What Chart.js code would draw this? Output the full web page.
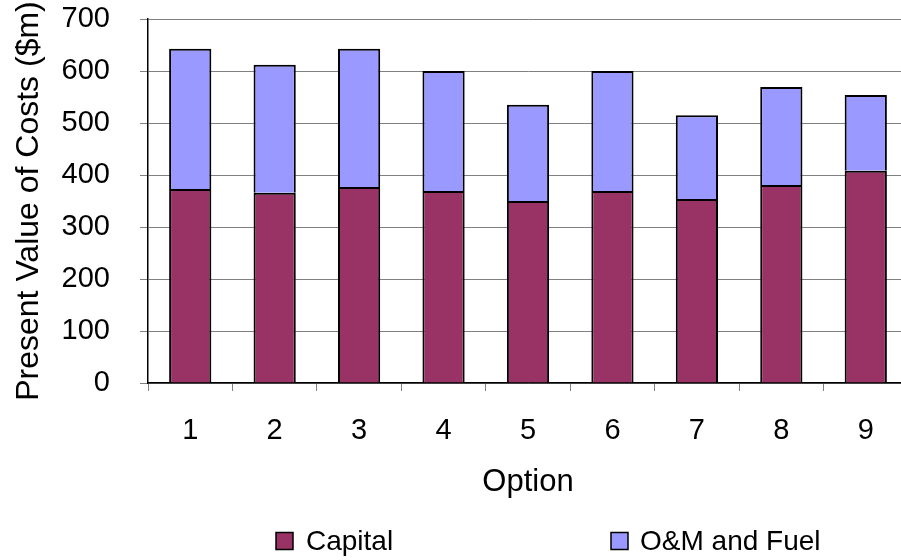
<!DOCTYPE html>
<html>
<head>
<meta charset="utf-8">
<script src="https://cdn.jsdelivr.net/npm/chart.js@4/dist/chart.umd.min.js"></script>
<style>
  html, body { margin: 0; padding: 0; overflow: hidden; background: #fff; }
  #wrap { width: 912px; height: 560px; }
</style>
</head>
<body>
<div id="wrap"><canvas id="c" width="912" height="560"></canvas></div>
<script>
const categories = ['1', '2', '3', '4', '5', '6', '7', '8', '9'];
const capital = [373, 366, 377, 369, 350, 369, 354, 381, 408];
const omFuel = [270, 246, 266, 231, 185, 231, 161, 188, 146];
const seriesNames = ['Capital', 'O&M and Fuel'];
const seriesColors = ['#993366', '#9999FF'];

const FONT = '"Liberation Sans", Arial, sans-serif';

const customLegend = {
  id: 'customLegend',
  afterDraw(chart) {
    const ctx = chart.ctx;
    const items = [
      { box: 276, text: 306 },
      { box: 611, text: 640 }
    ];
    const cy = 541;
    const size = 17;
    ctx.save();
    chart.data.datasets.forEach((ds, i) => {
      const it = items[i];
      ctx.fillStyle = ds.backgroundColor;
      ctx.fillRect(it.box, cy - size / 2, size, size);
      ctx.lineWidth = 1.5;
      ctx.strokeStyle = '#000';
      ctx.strokeRect(it.box, cy - size / 2, size, size);
      ctx.fillStyle = '#000';
      ctx.font = '28px ' + FONT;
      ctx.textBaseline = 'middle';
      ctx.textAlign = 'left';
      ctx.fillText(ds.label, it.text, cy + 1);
    });
    ctx.restore();
  }
};

new Chart(document.getElementById('c'), {
  type: 'bar',
  data: {
    labels: categories,
    datasets: [
      { label: seriesNames[0], data: capital, backgroundColor: seriesColors[0], borderColor: '#000', borderWidth: 2 },
      { label: seriesNames[1], data: omFuel, backgroundColor: seriesColors[1], borderColor: '#000', borderWidth: 2 }
    ]
  },
  options: {
    responsive: false,
    animation: false,
    devicePixelRatio: 1,
    layout: { padding: { top: 19, right: 4, bottom: 58, left: 0 } },
    datasets: { bar: { barPercentage: 0.5, categoryPercentage: 1.0 } },
    plugins: {
      legend: { display: false },
      tooltip: { enabled: false }
    },
    scales: {
      x: {
        stacked: true,
        afterFit(s) { s.height = 119; s.paddingLeft = 0; s.paddingRight = 0; },
        grid: { display: true, drawOnChartArea: false, drawTicks: true, tickLength: 8, color: '#808080', offset: true },
        border: { display: true, color: '#000', width: 1.5 },
        ticks: { color: '#000', font: { family: FONT, size: 29 }, padding: 23 },
        title: { display: true, text: 'Option', color: '#000', font: { family: FONT, size: 31 }, padding: { top: 0, bottom: 1 } }
      },
      y: {
        stacked: true,
        min: 0,
        max: 700,
        afterFit(s) { s.width = 148; s.paddingTop = 0; s.paddingBottom = 0; },
        grid: { display: true, drawOnChartArea: true, drawTicks: true, tickLength: 8, color: '#808080', lineWidth: 1 },
        border: { display: true, color: '#000', width: 1.5 },
        ticks: { stepSize: 100, color: '#000', font: { family: FONT, size: 29 }, padding: 30 },
        title: { display: true, text: 'Present Value of Costs ($m)', color: '#000', font: { family: FONT, size: 32 }, padding: { top: 10, bottom: 0 } }
      }
    }
  },
  plugins: [customLegend]
});
</script>
</body>
</html>
